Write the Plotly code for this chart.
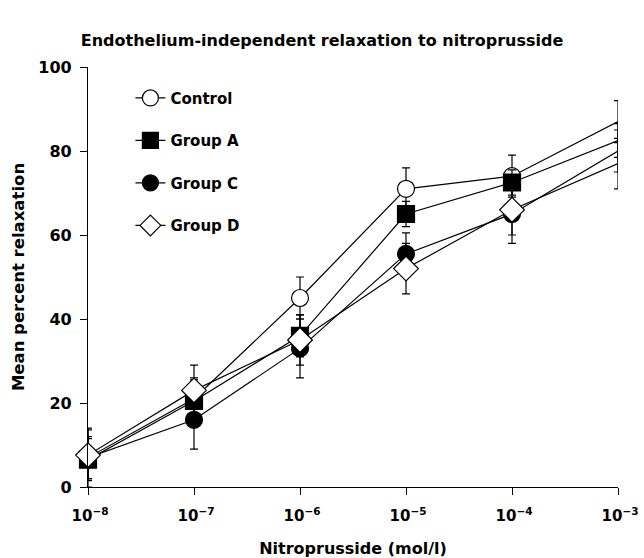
import plotly.graph_objects as go

concentrations = [1e-8, 1e-7, 1e-6, 1e-5, 1e-4, 1e-3]
tick_labels = ["10<sup>−8</sup>", "10<sup>−7</sup>", "10<sup>−6</sup>",
               "10<sup>−5</sup>", "10<sup>−4</sup>", "10<sup>−3</sup>"]
y_ticks = [0, 20, 40, 60, 80, 100]

control = [7, 21, 45, 71, 74, 87]
control_err = [5, 5, 5, 5, 5, 5]
group_a = [6.5, 20.5, 36, 65, 72.5, 82.5]
group_a_err = [5, 5, 5, 3, 3, 4]
group_c = [7, 16, 33, 55.5, 65, 80]
group_c_err = [7, 7, 7, 5, 7, 5]
group_d = [7.6, 23, 35, 52, 66, 77]
group_d_err = [6, 6, 6, 6, 6, 6]

series = [
    ("Control", control, control_err, "circle", "white"),
    ("Group A", group_a, group_a_err, "square", "black"),
    ("Group C", group_c, group_c_err, "circle", "black"),
    ("Group D", group_d, group_d_err, "diamond", "white"),
]

fig = go.Figure()
for name, vals, errs, sym, fill in series:
    fig.add_trace(go.Scatter(
        x=concentrations, y=vals, name=name, mode="lines+markers",
        legendgroup=name,
        line=dict(color="black", width=1.2),
        marker=dict(symbol=sym, size=17 if sym != "diamond" else 19,
                    color=fill, line=dict(color="black", width=1.2)),
        error_y=dict(type="data", array=errs, visible=True, color="black",
                     thickness=1.2, width=4),
        cliponaxis=False,
    ))

font_family = "DejaVu Sans, Liberation Sans, Arial, sans-serif"
fig.update_layout(
    width=644, height=558,
    paper_bgcolor="white", plot_bgcolor="white",
    margin=dict(l=88, r=26, t=67, b=71, autoexpand=False),
    font=dict(family=font_family, color="black", size=15, weight="bold"),
    title=dict(text="Endothelium-independent relaxation to nitroprusside",
               x=0.5, xanchor="center", y=1 - 40 / 558, yanchor="middle",
               font=dict(size=16, weight="bold")),
    showlegend=True,
    legend=dict(x=0.08, y=0.965, xanchor="left", yanchor="top",
                traceorder="grouped", tracegroupgap=20,
                bgcolor="rgba(0,0,0,0)",
                font=dict(size=15, weight="bold")),
    xaxis=dict(type="log", range=[-8, -3], tickvals=concentrations,
               ticktext=tick_labels, ticks="outside", ticklen=7,
               tickcolor="black", showline=True, linecolor="black",
               linewidth=1.2, showgrid=False, zeroline=False,
               automargin=False, ticklabelstandoff=8, ticklabelshift=2,
               ticklabeloverflow="allow",
               tickfont=dict(size=15, weight="bold"),
               title=dict(text="Nitroprusside (mol/l)", standoff=19,
                          font=dict(size=16, weight="bold"))),
    yaxis=dict(range=[0, 100], tickvals=y_ticks,
               ticks="outside", ticklen=7, tickcolor="black",
               showline=True, linecolor="black", linewidth=1.2,
               showgrid=False, zeroline=False, automargin=False,
               ticklabelstandoff=5,
               tickfont=dict(size=16, weight="bold"),
               title=dict(text="Mean percent relaxation", standoff=9,
                          font=dict(size=16.5, weight="bold"))),
)

fig.write_html("out.html", config={"displayModeBar": False},
               post_script="document.body.style.margin='0';"
                           "document.body.style.overflow='hidden';")
